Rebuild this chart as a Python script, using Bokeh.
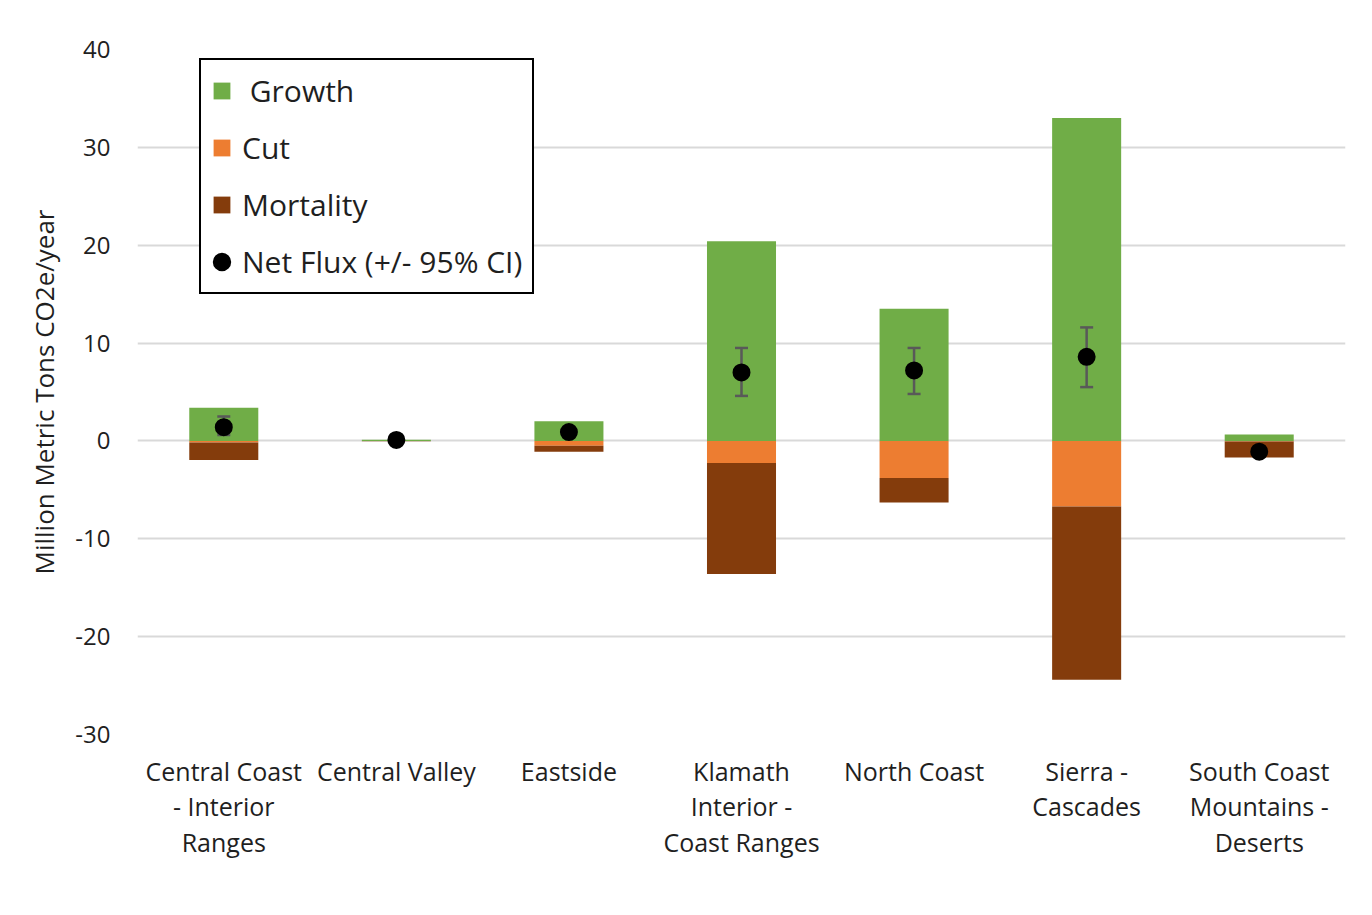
from bokeh.plotting import figure
from bokeh.models import ColumnDataSource, Range1d, FactorRange, Legend, LegendItem, FixedTicker
from bokeh.embed import file_html
from bokeh.resources import INLINE

regions = ["Central Coast\n- Interior\nRanges", "Central Valley", "Eastside",
           "Klamath\nInterior -\nCoast Ranges", "North Coast", "Sierra -\nCascades",
           "South Coast\nMountains -\nDeserts"]
growth = [3.4, 0.12, 2.0, 20.4, 13.5, 33.0, 0.65]
cut = [-0.15, -0.02, -0.5, -2.25, -3.8, -6.7, -0.05]
mortality = [-1.8, -0.02, -0.6, -11.35, -2.5, -17.7, -1.65]
net_flux = [1.4, 0.1, 0.9, 7.0, 7.2, 8.6, -1.1]
ci_low = [0.6, 0.0, 0.5, 4.6, 4.8, 5.5, -1.5]
ci_high = [2.5, 0.2, 1.3, 9.5, 9.5, 11.6, -0.7]
y_ticks = [-30, -20, -10, 0, 10, 20, 30, 40]

FONT = "Open Sans"
TXT = "#1f1f1f"

src = ColumnDataSource(dict(region=regions, growth=growth, cut=cut, mortality=mortality,
                            net=net_flux, lo=ci_low, hi=ci_high))

p = figure(x_range=FactorRange(factors=regions), y_range=Range1d(-30, 40),
           width=1356, height=899, output_backend="svg", toolbar_location=None,
           min_border_left=137, min_border_right=11, min_border_top=49, min_border_bottom=165)

rg = p.vbar(x="region", top="growth", bottom=0, width=0.4, source=src,
            fill_color="#70AD47", line_color=None)
rs = p.vbar_stack(["cut", "mortality"], x="region", width=0.4, source=src,
                  fill_color=["#ED7D31", "#843C0C"], line_color=None)

p.segment(x0="region", y0="lo", x1="region", y1="hi", source=src,
          line_color="#595959", line_width=2.5)
p.scatter(x="region", y="lo", marker="dash", size=13, source=src,
          line_color="#595959", line_width=2.5)
p.scatter(x="region", y="hi", marker="dash", size=13, source=src,
          line_color="#595959", line_width=2.5)
rn = p.scatter(x="region", y="net", size=8, line_width=10, source=src,
               fill_color="black", line_color="black")

p.yaxis.ticker = FixedTicker(ticks=y_ticks)
p.yaxis.major_label_overrides = {t: str(t) for t in y_ticks}
for ax in (p.xaxis, p.yaxis):
    ax.axis_line_color = None
    ax.major_tick_line_color = None
    ax.minor_tick_line_color = None
    ax.major_tick_out = 0
    ax.major_label_text_font = FONT
    ax.major_label_text_color = TXT

p.yaxis.major_label_text_font_size = "24px"
p.yaxis.major_label_standoff = 27
p.yaxis.axis_label = "Million Metric Tons CO2e/year"
p.yaxis.axis_label_text_font = FONT
p.yaxis.axis_label_text_font_size = "26px"
p.yaxis.axis_label_text_font_style = "normal"
p.yaxis.axis_label_text_color = TXT
p.yaxis.axis_label_standoff = 10

p.xaxis.major_label_text_font_size = "25px"
p.xaxis.major_label_standoff = 19
p.xaxis.major_label_text_line_height = 1.05

p.xgrid.visible = False
p.ygrid.grid_line_color = "#d9d9d9"
p.ygrid.grid_line_width = 2
p.outline_line_color = None

legend = Legend(items=[
    LegendItem(label=" Growth", renderers=[rg]),
    LegendItem(label="Cut", renderers=[rs[0]]),
    LegendItem(label="Mortality", renderers=[rs[1]]),
    LegendItem(label="Net Flux (+/- 95% CI)", renderers=[rn]),
], location=(62, 440), border_line_color="black", border_line_width=2,
    border_line_alpha=1.0,
    padding=10, spacing=16, label_height=28, glyph_height=21, glyph_width=21,
    label_standoff=10, label_text_font=FONT, label_text_font_size="30px",
    label_text_color=TXT, margin=0, background_fill_alpha=1.0)
p.add_layout(legend)

open("out.html", "w").write(file_html(p, INLINE))
